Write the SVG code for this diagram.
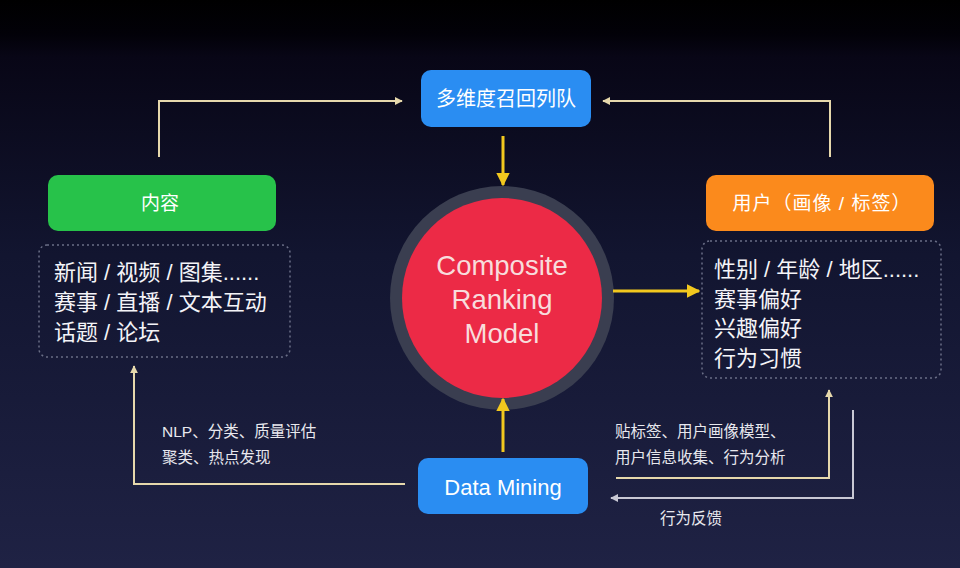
<svg xmlns="http://www.w3.org/2000/svg" width="960" height="568" viewBox="0 0 960 568">
<defs>
<linearGradient id="bg" x1="0" y1="0" x2="0" y2="1">
<stop offset="0" stop-color="#000000"/>
<stop offset="0.06" stop-color="#020108"/>
<stop offset="0.1" stop-color="#080616"/>
<stop offset="0.45" stop-color="#121530"/>
<stop offset="1" stop-color="#1f2244"/>
</linearGradient>
<marker id="ab" viewBox="0 0 10 10" refX="9" refY="5" markerWidth="4" markerHeight="4" orient="auto" markerUnits="strokeWidth">
<path d="M0,0 L10,5 L0,10 z" fill="#e6d8ac"/>
</marker>
<marker id="ay" viewBox="0 0 10 10" refX="9" refY="5" markerWidth="4.5" markerHeight="4.5" orient="auto" markerUnits="strokeWidth">
<path d="M0,0 L10,5 L0,10 z" fill="#f2c81e"/>
</marker>
<marker id="ag" viewBox="0 0 10 10" refX="9" refY="5" markerWidth="4" markerHeight="4" orient="auto" markerUnits="strokeWidth">
<path d="M0,0 L10,5 L0,10 z" fill="#c8c8d4"/>
</marker>
</defs>
<style>
.t{font-family:"Liberation Sans","Noto Sans CJK SC",sans-serif;fill:#ffffff}
.lbl{text-anchor:middle}
.big{font-size:22px;fill:#f4f4f8}
.sm{font-size:15.5px;fill:#e8e8ee}
.circ{font-size:27.5px;fill:#f8dcdc;text-anchor:middle}
.dot{fill:none;stroke:#6a6e86;stroke-width:1.5;stroke-dasharray:2 3}
.beige{fill:none;stroke:#e6d8ac;stroke-width:2}
.yel{fill:none;stroke:#f2c81e;stroke-width:3}
.gray{fill:none;stroke:#c8c8d4;stroke-width:2}
.blue{fill:#2a8df2}
</style>
<rect width="960" height="568" fill="url(#bg)"/>

<g id="recall">
<rect class="blue" x="421" y="70" width="170" height="57" rx="10"/>
<text class="t lbl" x="506" y="106" font-size="20">多维度召回列队</text>
</g>

<g id="content">
<rect x="48" y="175" width="228" height="56" rx="10" fill="#27c24a"/>
<text class="t lbl" x="160" y="210" font-size="19">内容</text>
</g>

<g id="user">
<rect x="706" y="175" width="228" height="56" rx="10" fill="#fb8a1c"/>
<text class="t lbl" x="822" y="210" font-size="19" letter-spacing="1">用户（画像 / 标签）</text>
</g>

<g id="content-detail">
<rect class="dot" x="39" y="245" width="251" height="112" rx="8"/>
<text class="t big" x="54" y="280">新闻 / 视频 / 图集......</text>
<text class="t big" x="54" y="310">赛事 / 直播 / 文本互动</text>
<text class="t big" x="54" y="340">话题 / 论坛</text>
</g>

<g id="user-detail">
<rect class="dot" x="702" y="241" width="239" height="137" rx="8"/>
<text class="t big" x="714" y="277">性别 / 年龄 / 地区......</text>
<text class="t big" x="714" y="307">赛事偏好</text>
<text class="t big" x="714" y="336">兴趣偏好</text>
<text class="t big" x="714" y="366">行为习惯</text>
</g>

<g id="model">
<circle cx="502" cy="298" r="112" fill="#3a3e50"/>
<circle cx="502" cy="298" r="100" fill="#ec2a46"/>
<text class="t circ" x="502" y="275">Composite</text>
<text class="t circ" x="502" y="309">Ranking</text>
<text class="t circ" x="502" y="343">Model</text>
</g>

<g id="datamining">
<rect class="blue" x="418" y="458" width="170" height="56" rx="10"/>
<text class="t lbl" x="503" y="495" font-size="22">Data Mining</text>
</g>

<g id="connectors">
<path class="beige" d="M159,157 V101 H402" marker-end="url(#ab)"/>
<path class="beige" d="M830,157 V101 H603" marker-end="url(#ab)"/>
<path class="yel" d="M503,136 V185" marker-end="url(#ay)"/>
<path class="yel" d="M613,291 H699" marker-end="url(#ay)"/>
<path class="yel" d="M503,452 V399" marker-end="url(#ay)"/>
<path class="beige" d="M405,484 H134 V366" marker-end="url(#ab)"/>
<path class="beige" d="M616,478 H829 V390" marker-end="url(#ab)"/>
<path class="gray" d="M853,410 V498 H611" marker-end="url(#ag)"/>
</g>

<g id="labels">
<text class="t sm" x="162" y="437">NLP、分类、质量评估</text>
<text class="t sm" x="162" y="463">聚类、热点发现</text>
<text class="t sm" x="615" y="437">贴标签、用户画像模型、</text>
<text class="t sm" x="615" y="463">用户信息收集、行为分析</text>
<text class="t sm" x="660" y="524">行为反馈</text>
</g>
</svg>
